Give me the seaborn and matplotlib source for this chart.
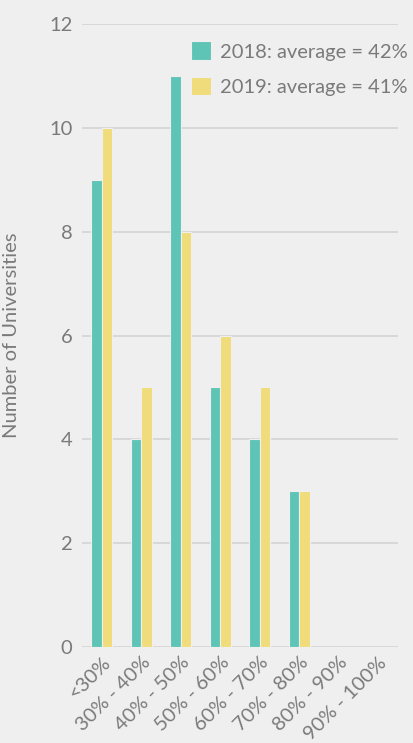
import matplotlib
matplotlib.use("Agg")
import matplotlib.pyplot as plt
import seaborn as sns
import pandas as pd

categories = ["<30%", "30% - 40%", "40% - 50%", "50% - 60%",
              "60% - 70%", "70% - 80%", "80% - 90%", "90% - 100%"]
counts_2018 = [9, 4, 11, 5, 4, 3, 0, 0]
counts_2019 = [10, 5, 8, 6, 5, 3, 0, 0]
series_labels = ["2018: average = 42%", "2019: average = 41%"]
y_ticks = [0, 2, 4, 6, 8, 10, 12]

bg = "#efefef"
text_color = "#7a7a7a"
palette = ["#5ec4b6", "#f0dc7a"]
fs = 14.5

sns.set_theme(style="white")
plt.rcParams["font.family"] = ["Lato", "DejaVu Sans"]

df = pd.DataFrame({
    "bucket": categories * 2,
    "count": counts_2018 + counts_2019,
    "series": [series_labels[0]] * len(categories) + [series_labels[1]] * len(categories),
})

fig = plt.figure(figsize=(4.13, 7.43), dpi=100, facecolor=bg)
ax = fig.add_axes([82 / 413, (743 - 647) / 743, (398 - 82) / 413, (647 - 24) / 743])
ax.set_facecolor(bg)

sns.barplot(data=df, x="bucket", y="count", hue="series", order=categories,
            hue_order=series_labels, palette=palette, width=0.52,
            edgecolor=bg, linewidth=0.8, saturation=1, ax=ax, zorder=3)

ax.set_ylim(0, 12)
ax.set_xlim(-0.5, len(categories) - 0.5)
ax.set_yticks(y_ticks)
ax.yaxis.grid(True, color="#d4d4d4", linewidth=1.2, zorder=0)
ax.xaxis.grid(False)
for s in ax.spines.values():
    s.set_visible(False)
ax.tick_params(axis="both", length=0, colors=text_color, labelsize=fs)
ax.tick_params(axis="y", pad=7)
ax.tick_params(axis="x", pad=5)
plt.setp(ax.get_xticklabels(), rotation=45, ha="right", rotation_mode="anchor")

ax.set_xlabel("")
ax.set_ylabel("Number of Universities", color=text_color, fontsize=fs)
ax.yaxis.set_label_coords(-0.196, 0.5)

leg = ax.legend(loc="upper left", bbox_to_anchor=(0.345, 0.972), frameon=False,
                fontsize=fs, handlelength=1.0, handleheight=1.05,
                handletextpad=0.45, labelspacing=0.8, borderaxespad=0,
                borderpad=0)
for t in leg.get_texts():
    t.set_color(text_color)

fig.savefig("out.png", dpi=100, facecolor=bg)
